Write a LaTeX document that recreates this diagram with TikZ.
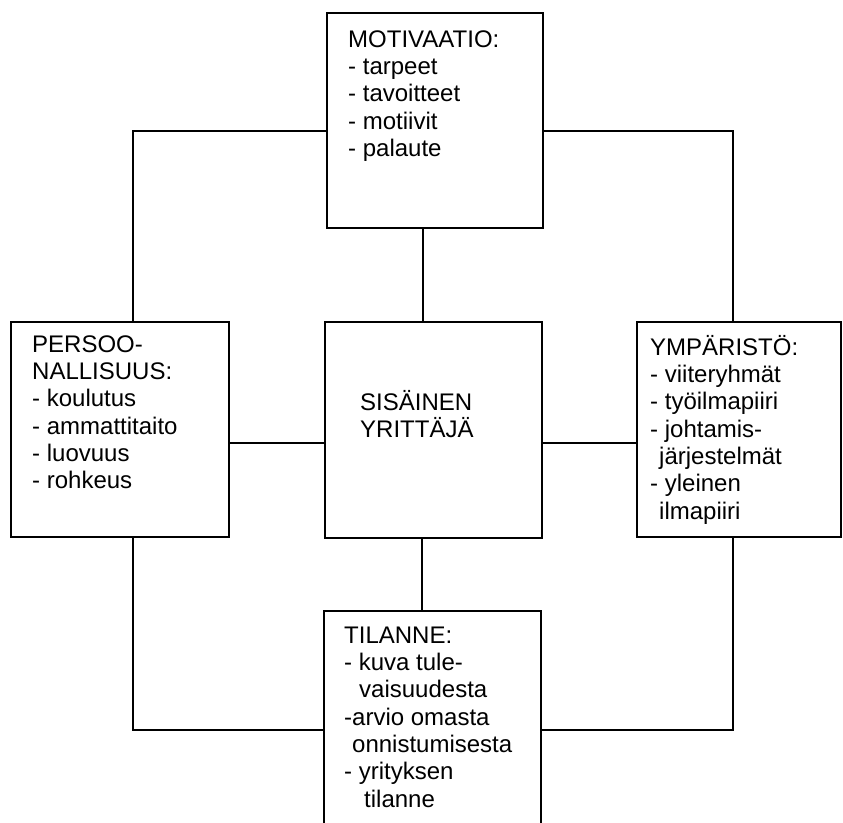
\documentclass[tikz,border=0pt]{standalone}
\usepackage{fontspec}
\setmainfont{Liberation Sans}
\begin{document}
\begin{tikzpicture}[x=1pt,y=1pt,
  box/.style={draw=black, line width=1.4pt, rectangle, inner sep=0pt, fill=none},
  txt/.style={anchor=north west, inner sep=0pt, align=left, font=\fontsize{24}{27.3}\selectfont},
  conn/.style={draw=black, line width=1.4pt}]
\useasboundingbox (0,0) rectangle (843,-822);
\clip (0,0) rectangle (843,-822);
\fill[white] (0,0) rectangle (843,-822);

% boxes
\node[box, minimum width=216pt, minimum height=215pt] (mot) at (435,-120.5) {};
\node[box, minimum width=218pt, minimum height=215pt] (per) at (120,-429.5) {};
\node[box, minimum width=217pt, minimum height=216pt] (sis) at (433.5,-430) {};
\node[box, minimum width=204pt, minimum height=215pt] (ymp) at (739,-429.5) {};
\node[box, minimum width=217pt, minimum height=239pt] (til) at (432.5,-730.5) {};

% texts
\node[txt] (motT) at (348,-24) {\rule{0pt}{23pt}MOTIVAATIO:\\- tarpeet\\- tavoitteet\\- motiivit\\- palaute};
\node[txt] (perT) at (32,-329) {\rule{0pt}{23pt}PERSOO-\\NALLISUUS:\\- koulutus\\- ammattitaito\\- luovuus\\- rohkeus};
\node[txt] (sisT) at (360,-387) {\rule{0pt}{23pt}SISÄINEN\\YRITTÄJÄ};
\node[txt] (ympT) at (650,-332) {\rule{0pt}{23pt}YMPÄRISTÖ:\\- viiteryhmät\\- työilmapiiri\\- johtamis-\\\hspace*{9pt}järjestelmät\\- yleinen\\\hspace*{9pt}ilmapiiri};
\node[txt] (tilT) at (344,-620) {\rule{0pt}{23pt}TILANNE:\\- kuva tule-\\\hspace*{15pt}vaisuudesta\\-arvio omasta\\\hspace*{8pt}onnistumisesta\\- yrityksen\\\hspace*{20pt}tilanne};

% connector corners
\coordinate (kTL) at (133,-131);
\coordinate (kTR) at (733,-131);
\coordinate (kBL) at (133,-730);
\coordinate (kBR) at (733,-730);
\coordinate (kMid) at (0,-443);
\coordinate (kVt) at (423,0);
\coordinate (kVb) at (422,0);

% connectors
\draw[conn] (kTL -| mot.west) -- (kTL) -- (kTL |- per.north);
\draw[conn] (kTR -| mot.east) -- (kTR) -- (kTR |- ymp.north);
\draw[conn] (kVt |- mot.south) -- (kVt |- sis.north);
\draw[conn] (kMid -| per.east) -- (kMid -| sis.west);
\draw[conn] (kMid -| sis.east) -- (kMid -| ymp.west);
\draw[conn] (kVb |- sis.south) -- (kVb |- til.north);
\draw[conn] (kBL |- per.south) -- (kBL) -- (kBL -| til.west);
\draw[conn] (kBR |- ymp.south) -- (kBR) -- (kBR -| til.east);
\end{tikzpicture}
\end{document}
